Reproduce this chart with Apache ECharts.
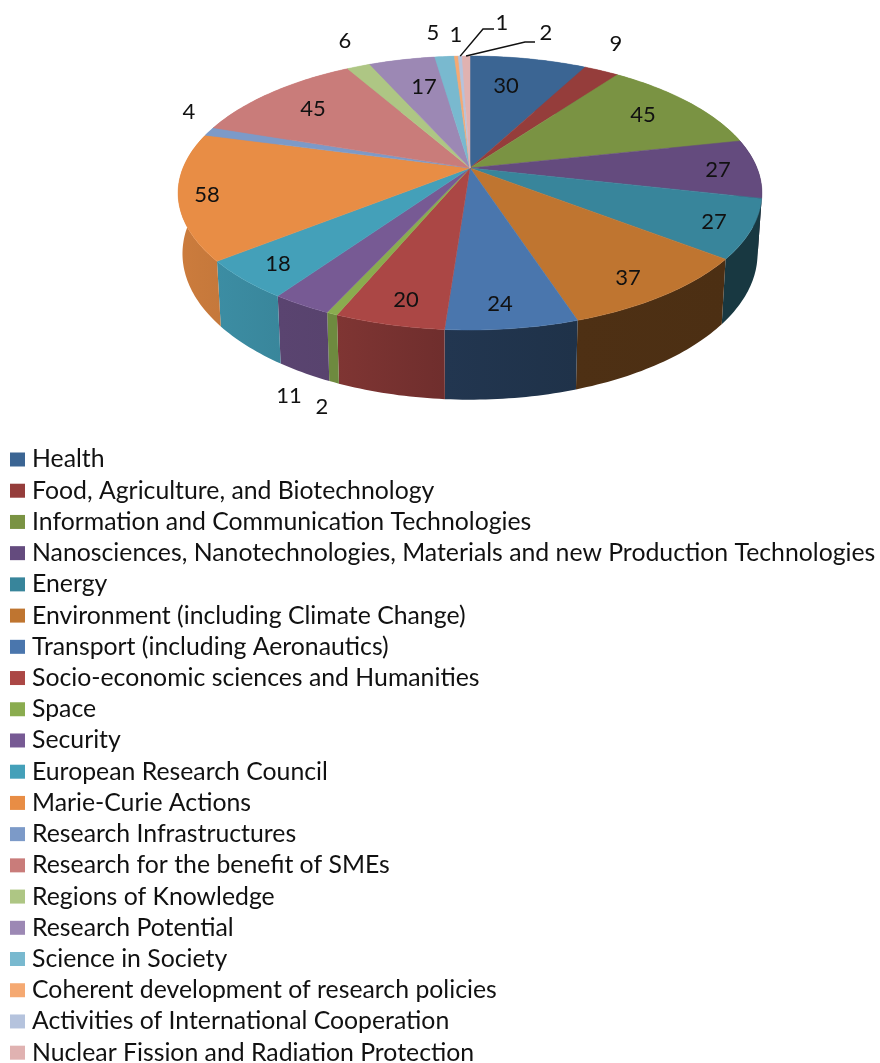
<!DOCTYPE html>
<html>
<head>
<meta charset="utf-8">
<style>
  html, body { margin: 0; background: #fff; }
  #chart { width: 880px; height: 1063px; }
</style>
<script src="https://cdn.jsdelivr.net/npm/echarts@6/dist/echarts.min.js"></script>
</head>
<body>
<div id="chart"></div>
<script>
const categories = [
  'Health',
  'Food, Agriculture, and Biotechnology',
  'Information and Communication Technologies',
  'Nanosciences, Nanotechnologies, Materials and new Production Technologies',
  'Energy',
  'Environment (including Climate Change)',
  'Transport (including Aeronautics)',
  'Socio-economic sciences and Humanities',
  'Space',
  'Security',
  'European Research Council',
  'Marie-Curie Actions',
  'Research Infrastructures',
  'Research for the benefit of SMEs',
  'Regions of Knowledge',
  'Research Potential',
  'Science in Society',
  'Coherent development of research policies',
  'Activities of International Cooperation',
  'Nuclear Fission and Radiation Protection',
];
const projects = [30, 9, 45, 27, 27, 37, 24, 20, 2, 11, 18, 58, 4, 45, 6, 17, 5, 1, 1, 2];

const colors = [
  '#3b6593', '#953d3b', '#7a9343', '#644b7e', '#38859b', '#bf7530', '#4a76ad',
  '#ab4745', '#8aac4f', '#775a94', '#44a0b9', '#e88d45', '#7c9ac8', '#c97c7a',
  '#aec684', '#9c88b4', '#79b9cf', '#f5a972', '#b5c3dd', '#e0b2b1',
];
// wall brightness at the [right, left] end of each slice, only the front ones show
const wallShade = [
  [1, 1], [1, 1], [1, 1], [0.4, 0.4], [0.42, 0.42], [0.4, 0.41], [0.42, 0.46],
  [0.65, 0.74], [0.8, 0.8], [0.74, 0.76], [0.84, 0.88], [0.85, 0.88],
  [1, 1], [1, 1], [1, 1], [1, 1], [1, 1], [1, 1], [1, 1], [1, 1],
];
// manual label placement, as in the original
const labelAt = [
  [506, 86], [616, 44], [643, 115], [718, 170], [714, 222], [628, 278], [500, 304],
  [406, 300], [322, 407], [289, 396], [278, 264], [207, 195], [189, 112], [313, 109],
  [345, 41], [424, 87], [433, 33], [456, 35], [502, 23], [546, 33],
];
const leaders = { 18: [[494, 29], [483, 29]], 19: [[535, 42], [525, 42]] };

// perspective disc
const APEX = { x: 470, y: 168 };
const R = 287, H = 132.4, P = 0.1825;
const DEPTH = 59, BOTTOM_SCALE = 0.985;

const total = projects.reduce((a, b) => a + b, 0);
const starts = [];
projects.reduce((sum, v, i) => { starts[i] = sum; return sum + v; }, 0);

function rim(deg, r = 1) {
  const a = deg * Math.PI / 180;
  const u = Math.sin(a) * r, v = Math.cos(a) * r, d = 1 + P * v;
  return [APEX.x + R * u / d, APEX.y - H * v / d];
}
function rimBottom(deg) {
  const a = deg * Math.PI / 180;
  const u = Math.sin(a), v = Math.cos(a), d = 1 + P * v;
  return [APEX.x + BOTTOM_SCALE * R * u / d, APEX.y - BOTTOM_SCALE * H * v / d + DEPTH / d];
}
function arc(a0, a1, fn) {
  const n = Math.max(2, Math.ceil(a1 - a0));
  const pts = [];
  for (let i = 0; i <= n; i++) pts.push(fn(a0 + (a1 - a0) * i / n));
  return pts;
}
function shade(hex, f) {
  const n = parseInt(hex.slice(1), 16);
  const c = [n >> 16, (n >> 8) & 255, n & 255].map((x) => Math.round(x * f));
  return `rgb(${c[0]},${c[1]},${c[2]})`;
}

function renderSlice(i) {
  const a0 = starts[i] / total * 360;
  const a1 = (starts[i] + projects[i]) / total * 360;
  const top = arc(a0, a1, rim);
  const color = colors[i];
  const children = [
    {
      type: 'polygon', z2: 1,
      shape: { points: top.concat(arc(a0, a1, rimBottom).reverse()) },
      style: {
        fill: new echarts.graphic.LinearGradient(0, 0, 1, 0, [
          { offset: 0, color: shade(color, wallShade[i][1]) },
          { offset: 1, color: shade(color, wallShade[i][0]) },
        ]),
      },
    },
    {
      type: 'polygon', z2: 10,
      shape: { points: [[APEX.x, APEX.y]].concat(top) },
      style: { fill: color, stroke: color, lineWidth: 0.5 },
    },
    {
      type: 'text', z2: 30,
      style: {
        text: String(projects[i]), x: labelAt[i][0], y: labelAt[i][1],
        align: 'center', verticalAlign: 'middle',
        font: '22px Lato', fill: '#111',
      },
    },
  ];
  if (leaders[i]) {
    children.push({
      type: 'polyline', z2: 20,
      shape: { points: leaders[i].concat([rim((a0 + a1) / 2)]) },
      style: { stroke: '#111', lineWidth: 1.5, fill: 'none' },
    });
  }
  return { type: 'group', children };
}

const chart = echarts.init(document.getElementById('chart'), null, { renderer: 'canvas' });
chart.setOption({
  backgroundColor: '#fff',
  animation: false,
  legend: {
    orient: 'vertical',
    left: 5, top: 442, height: 660,
    icon: 'rect',
    itemWidth: 15, itemHeight: 14, itemGap: 6.22,
    selectedMode: false,
    data: categories,
    textStyle: { fontFamily: 'Lato', fontSize: 24.8, lineHeight: 24, padding: [0, 0, 0, 2], color: '#111' },
  },
  series: categories.map((name, i) => ({
    type: 'custom',
    name,
    coordinateSystem: 'none',
    color: colors[i],
    data: [[projects[i]]],
    renderItem: () => renderSlice(i),
  })),
});
</script>
</body>
</html>
